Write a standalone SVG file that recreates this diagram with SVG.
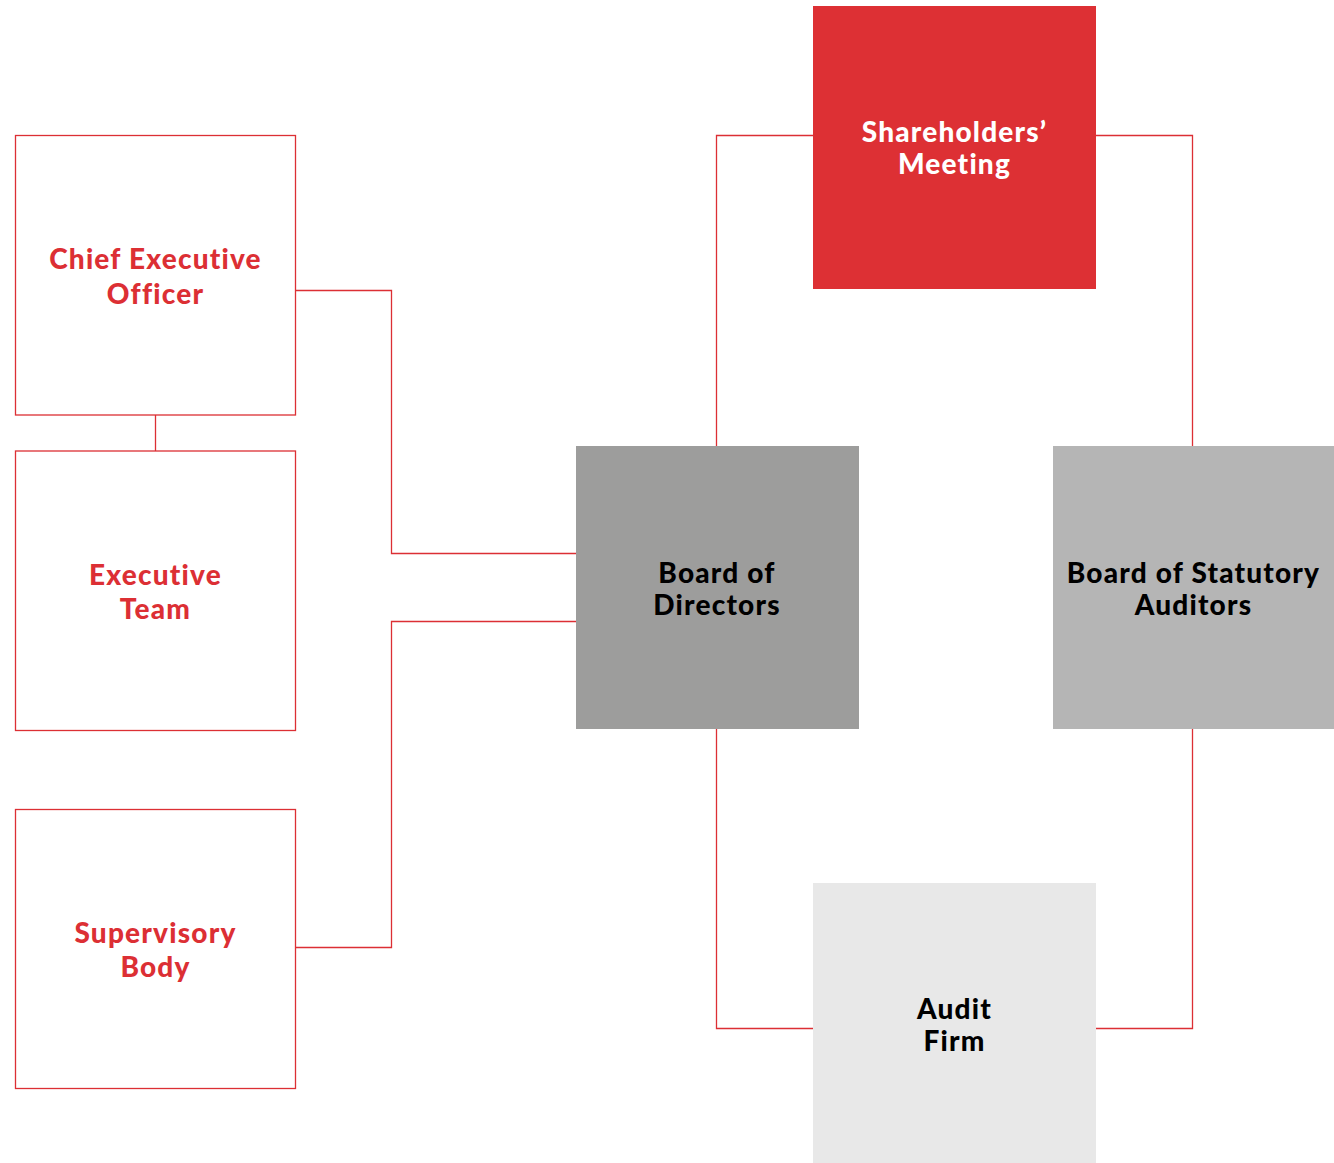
<svg xmlns="http://www.w3.org/2000/svg" width="1334" height="1163" viewBox="0 0 1334 1163">
<style>
.conn{fill:none;stroke:#dc2f34;stroke-width:1.3}
.outline{fill:#fff;stroke:#dc2f34;stroke-width:1.3}
text{font-family:Lato,"Noto Sans","Liberation Sans",sans-serif;font-weight:900;font-size:28px;letter-spacing:1.2px;text-anchor:middle}
.red{fill:#dc2f34}
.white{fill:#fff}
.black{fill:#000}
</style>
<rect width="1334" height="1163" fill="#fff"/>
<g id="connectors">
<polyline class="conn" points="813,135.5 716.5,135.5 716.5,446"/>
<polyline class="conn" points="1096,135.5 1192.5,135.5 1192.5,446"/>
<polyline class="conn" points="716.5,729 716.5,1028.5 813,1028.5"/>
<polyline class="conn" points="1192.5,729 1192.5,1028.5 1096,1028.5"/>
<polyline class="conn" points="296,290.5 391.5,290.5 391.5,553.5 576,553.5"/>
<polyline class="conn" points="296,947.5 391.5,947.5 391.5,621.5 576,621.5"/>
<line class="conn" x1="155.5" y1="415" x2="155.5" y2="451"/>
</g>
<g id="shareholders">
<rect x="813" y="6" width="283" height="283" fill="#dd3034"/>
<text class="white" x="954.5" y="142">Shareholders’</text>
<text class="white" x="954.5" y="174">Meeting</text>
</g>
<g id="ceo">
<rect class="outline" x="15.5" y="135.5" width="280" height="279.5"/>
<text class="red" x="155.5" y="269">Chief Executive</text>
<text class="red" x="155.5" y="304">Officer</text>
</g>
<g id="executive-team">
<rect class="outline" x="15.5" y="451" width="280" height="279.5"/>
<text class="red" x="155.5" y="585">Executive</text>
<text class="red" x="155.5" y="619">Team</text>
</g>
<g id="supervisory-body">
<rect class="outline" x="15.5" y="809.5" width="280" height="279"/>
<text class="red" x="155.5" y="943">Supervisory</text>
<text class="red" x="155.5" y="977">Body</text>
</g>
<g id="board-of-directors">
<rect x="576" y="446" width="283" height="283" fill="#9d9d9c"/>
<text class="black" x="717" y="583">Board of</text>
<text class="black" x="717" y="615">Directors</text>
</g>
<g id="board-of-statutory-auditors">
<rect x="1053" y="446" width="281" height="283" fill="#b5b5b5"/>
<text class="black" x="1193.5" y="583">Board of Statutory</text>
<text class="black" x="1193.5" y="615">Auditors</text>
</g>
<g id="audit-firm">
<rect x="813" y="883" width="283" height="280" fill="#e8e8e8"/>
<text class="black" x="954.5" y="1019">Audit</text>
<text class="black" x="954.5" y="1051">Firm</text>
</g>
</svg>
